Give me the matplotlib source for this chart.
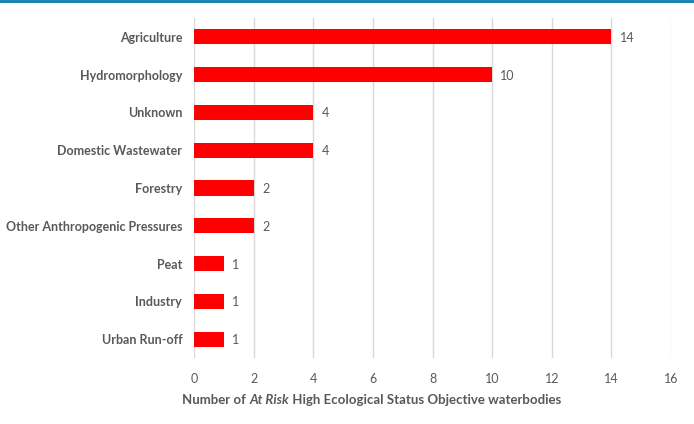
import matplotlib
matplotlib.use("Agg")
import matplotlib.pyplot as plt
from matplotlib.lines import Line2D

categories = ["Agriculture", "Hydromorphology", "Unknown", "Domestic Wastewater",
              "Forestry", "Other Anthropogenic Pressures", "Peat", "Industry", "Urban Run-off"]
values = [14, 10, 4, 4, 2, 2, 1, 1, 1]
xticks = [0, 2, 4, 6, 8, 10, 12, 14, 16]

FONT = "Lato"
GRAY = "#595959"
plt.rcParams['font.family'] = [FONT, 'DejaVu Sans']

fig = plt.figure(figsize=(6.94, 4.24), dpi=100)
ax = fig.add_axes([194/694, 1-358/424, (671-194)/694, (358-18)/424])

ypos = list(range(len(categories)))
ax.barh(ypos, values, height=0.4, color="#ff0000", zorder=3)
ax.set_ylim(len(categories)-0.5, -0.5)
ax.set_xlim(0, 16)
ax.set_xticks(xticks)
ax.set_xticklabels([str(t) for t in xticks], color=GRAY, fontsize=9)
ax.set_yticks(ypos)
ax.set_yticklabels(categories, color=GRAY, fontsize=9, fontweight="bold")
ax.tick_params(axis="both", length=0)
ax.tick_params(axis="y", pad=8.5)
ax.tick_params(axis="x", pad=11)
for s in ax.spines.values():
    s.set_visible(False)
ax.grid(axis="x", color="#d9d9d9", linewidth=1, zorder=0)
ax.set_axisbelow(True)

for y, v in zip(ypos, values):
    ax.annotate(str(v), (v, y), xytext=(6, 0), textcoords="offset points",
                va="center_baseline", ha="left", color=GRAY, fontsize=9)

# x-axis title with italic part
parts = [("Number of ", "normal"), ("At Risk", "italic"), (" High Ecological Status Objective waterbodies", "normal")]
fig.canvas.draw()
renderer = fig.canvas.get_renderer()
x = 182/694
yfig = 1 - 400/424
for txt, style in parts:
    t = fig.text(x, yfig, txt, fontsize=9.5, fontweight="bold", style=style, color=GRAY,
                 ha="left", va="center")
    bb = t.get_window_extent(renderer=renderer)
    x += bb.width / fig.bbox.width

# top blue line
fig.add_artist(Line2D([0, 1], [1-1/424, 1-1/424], transform=fig.transFigure,
                      color="#0a7fae", linewidth=2))

fig.savefig("out.png", dpi=100)
